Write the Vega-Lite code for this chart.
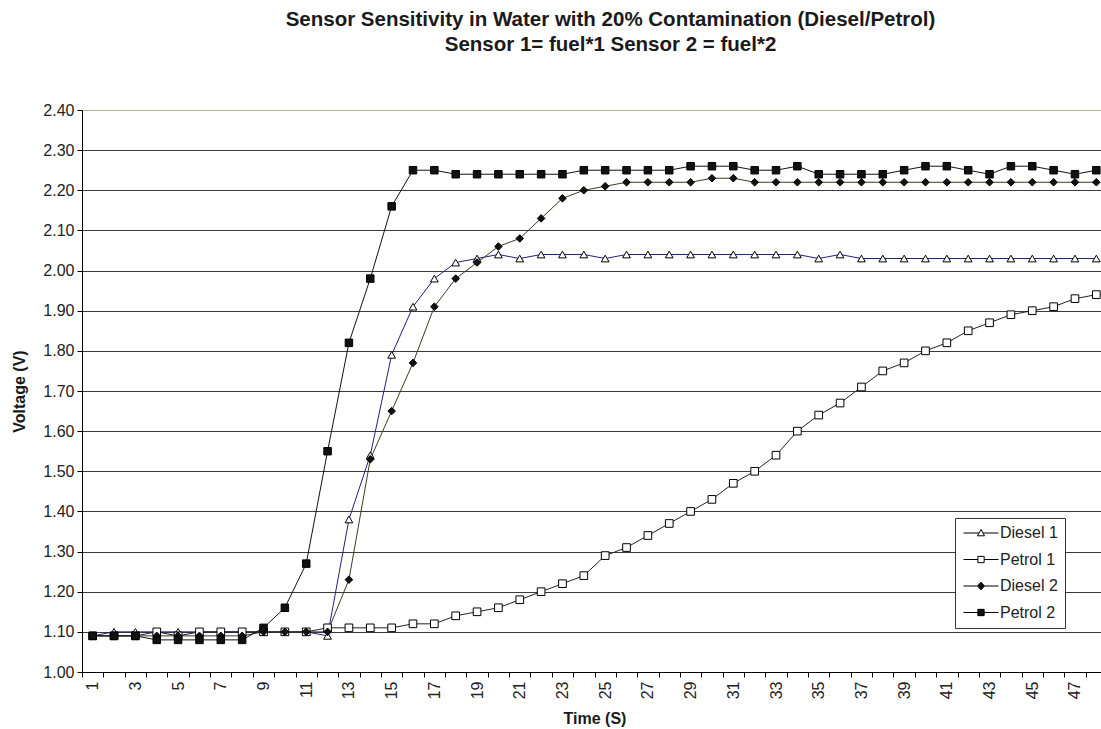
{
  "$schema": "https://vega.github.io/schema/vega-lite/v6.json",
  "width": 1019,
  "height": 562,
  "autosize": "none",
  "padding": {"left": 82, "top": 110, "right": 0, "bottom": 57},
  "background": "white",
  "title": {
    "text": ["Sensor Sensitivity in Water with 20% Contamination (Diesel/Petrol)", "Sensor 1= fuel*1 Sensor 2 = fuel*2"],
    "font": "Liberation Sans",
    "fontSize": 20.5,
    "fontWeight": "bold",
    "color": "#1a1a1a",
    "anchor": "middle",
    "offset": 47,
    "lineHeight": 25,
    "dx": 19
  },
  "config": {
    "view": {"stroke": null},
    "axis": {
      "labelFont": "Liberation Sans",
      "labelFontSize": 16,
      "labelColor": "#222",
      "titleFont": "Liberation Sans",
      "titleFontSize": 16,
      "titleFontWeight": "bold",
      "titleColor": "#1a1a1a",
      "domainColor": "#000",
      "tickColor": "#000",
      "tickSize": 5
    },
    "legend": {
      "orient": "none",
      "legendX": 873,
      "legendY": 408,
      "padding": 7,
      "strokeColor": "#333",
      "fillColor": "white",
      "labelFont": "Liberation Sans",
      "labelFontSize": 16,
      "labelColor": "#222",
      "symbolSize": 49,
      "symbolStrokeWidth": 1,
      "symbolOffset": 11,
      "labelOffset": 11,
      "rowPadding": 10.5
    }
  },
  "data": {
    "values": [
      {"t":1,"series":"Diesel 1","v":1.09},{"t":2,"series":"Diesel 1","v":1.10},{"t":3,"series":"Diesel 1","v":1.10},{"t":4,"series":"Diesel 1","v":1.10},{"t":5,"series":"Diesel 1","v":1.10},{"t":6,"series":"Diesel 1","v":1.10},{"t":7,"series":"Diesel 1","v":1.10},{"t":8,"series":"Diesel 1","v":1.10},{"t":9,"series":"Diesel 1","v":1.10},{"t":10,"series":"Diesel 1","v":1.10},{"t":11,"series":"Diesel 1","v":1.10},{"t":12,"series":"Diesel 1","v":1.09},{"t":13,"series":"Diesel 1","v":1.38},{"t":14,"series":"Diesel 1","v":1.54},{"t":15,"series":"Diesel 1","v":1.79},{"t":16,"series":"Diesel 1","v":1.91},{"t":17,"series":"Diesel 1","v":1.98},{"t":18,"series":"Diesel 1","v":2.02},{"t":19,"series":"Diesel 1","v":2.03},{"t":20,"series":"Diesel 1","v":2.04},{"t":21,"series":"Diesel 1","v":2.03},{"t":22,"series":"Diesel 1","v":2.04},{"t":23,"series":"Diesel 1","v":2.04},{"t":24,"series":"Diesel 1","v":2.04},{"t":25,"series":"Diesel 1","v":2.03},{"t":26,"series":"Diesel 1","v":2.04},{"t":27,"series":"Diesel 1","v":2.04},{"t":28,"series":"Diesel 1","v":2.04},{"t":29,"series":"Diesel 1","v":2.04},{"t":30,"series":"Diesel 1","v":2.04},{"t":31,"series":"Diesel 1","v":2.04},{"t":32,"series":"Diesel 1","v":2.04},{"t":33,"series":"Diesel 1","v":2.04},{"t":34,"series":"Diesel 1","v":2.04},{"t":35,"series":"Diesel 1","v":2.03},{"t":36,"series":"Diesel 1","v":2.04},{"t":37,"series":"Diesel 1","v":2.03},{"t":38,"series":"Diesel 1","v":2.03},{"t":39,"series":"Diesel 1","v":2.03},{"t":40,"series":"Diesel 1","v":2.03},{"t":41,"series":"Diesel 1","v":2.03},{"t":42,"series":"Diesel 1","v":2.03},{"t":43,"series":"Diesel 1","v":2.03},{"t":44,"series":"Diesel 1","v":2.03},{"t":45,"series":"Diesel 1","v":2.03},{"t":46,"series":"Diesel 1","v":2.03},{"t":47,"series":"Diesel 1","v":2.03},{"t":48,"series":"Diesel 1","v":2.03},
      {"t":1,"series":"Petrol 1","v":1.09},{"t":2,"series":"Petrol 1","v":1.09},{"t":3,"series":"Petrol 1","v":1.09},{"t":4,"series":"Petrol 1","v":1.10},{"t":5,"series":"Petrol 1","v":1.09},{"t":6,"series":"Petrol 1","v":1.10},{"t":7,"series":"Petrol 1","v":1.10},{"t":8,"series":"Petrol 1","v":1.10},{"t":9,"series":"Petrol 1","v":1.10},{"t":10,"series":"Petrol 1","v":1.10},{"t":11,"series":"Petrol 1","v":1.10},{"t":12,"series":"Petrol 1","v":1.11},{"t":13,"series":"Petrol 1","v":1.11},{"t":14,"series":"Petrol 1","v":1.11},{"t":15,"series":"Petrol 1","v":1.11},{"t":16,"series":"Petrol 1","v":1.12},{"t":17,"series":"Petrol 1","v":1.12},{"t":18,"series":"Petrol 1","v":1.14},{"t":19,"series":"Petrol 1","v":1.15},{"t":20,"series":"Petrol 1","v":1.16},{"t":21,"series":"Petrol 1","v":1.18},{"t":22,"series":"Petrol 1","v":1.20},{"t":23,"series":"Petrol 1","v":1.22},{"t":24,"series":"Petrol 1","v":1.24},{"t":25,"series":"Petrol 1","v":1.29},{"t":26,"series":"Petrol 1","v":1.31},{"t":27,"series":"Petrol 1","v":1.34},{"t":28,"series":"Petrol 1","v":1.37},{"t":29,"series":"Petrol 1","v":1.40},{"t":30,"series":"Petrol 1","v":1.43},{"t":31,"series":"Petrol 1","v":1.47},{"t":32,"series":"Petrol 1","v":1.50},{"t":33,"series":"Petrol 1","v":1.54},{"t":34,"series":"Petrol 1","v":1.60},{"t":35,"series":"Petrol 1","v":1.64},{"t":36,"series":"Petrol 1","v":1.67},{"t":37,"series":"Petrol 1","v":1.71},{"t":38,"series":"Petrol 1","v":1.75},{"t":39,"series":"Petrol 1","v":1.77},{"t":40,"series":"Petrol 1","v":1.80},{"t":41,"series":"Petrol 1","v":1.82},{"t":42,"series":"Petrol 1","v":1.85},{"t":43,"series":"Petrol 1","v":1.87},{"t":44,"series":"Petrol 1","v":1.89},{"t":45,"series":"Petrol 1","v":1.90},{"t":46,"series":"Petrol 1","v":1.91},{"t":47,"series":"Petrol 1","v":1.93},{"t":48,"series":"Petrol 1","v":1.94},
      {"t":1,"series":"Diesel 2","v":1.09},{"t":2,"series":"Diesel 2","v":1.09},{"t":3,"series":"Diesel 2","v":1.09},{"t":4,"series":"Diesel 2","v":1.09},{"t":5,"series":"Diesel 2","v":1.09},{"t":6,"series":"Diesel 2","v":1.09},{"t":7,"series":"Diesel 2","v":1.09},{"t":8,"series":"Diesel 2","v":1.09},{"t":9,"series":"Diesel 2","v":1.10},{"t":10,"series":"Diesel 2","v":1.10},{"t":11,"series":"Diesel 2","v":1.10},{"t":12,"series":"Diesel 2","v":1.10},{"t":13,"series":"Diesel 2","v":1.23},{"t":14,"series":"Diesel 2","v":1.53},{"t":15,"series":"Diesel 2","v":1.65},{"t":16,"series":"Diesel 2","v":1.77},{"t":17,"series":"Diesel 2","v":1.91},{"t":18,"series":"Diesel 2","v":1.98},{"t":19,"series":"Diesel 2","v":2.02},{"t":20,"series":"Diesel 2","v":2.06},{"t":21,"series":"Diesel 2","v":2.08},{"t":22,"series":"Diesel 2","v":2.13},{"t":23,"series":"Diesel 2","v":2.18},{"t":24,"series":"Diesel 2","v":2.20},{"t":25,"series":"Diesel 2","v":2.21},{"t":26,"series":"Diesel 2","v":2.22},{"t":27,"series":"Diesel 2","v":2.22},{"t":28,"series":"Diesel 2","v":2.22},{"t":29,"series":"Diesel 2","v":2.22},{"t":30,"series":"Diesel 2","v":2.23},{"t":31,"series":"Diesel 2","v":2.23},{"t":32,"series":"Diesel 2","v":2.22},{"t":33,"series":"Diesel 2","v":2.22},{"t":34,"series":"Diesel 2","v":2.22},{"t":35,"series":"Diesel 2","v":2.22},{"t":36,"series":"Diesel 2","v":2.22},{"t":37,"series":"Diesel 2","v":2.22},{"t":38,"series":"Diesel 2","v":2.22},{"t":39,"series":"Diesel 2","v":2.22},{"t":40,"series":"Diesel 2","v":2.22},{"t":41,"series":"Diesel 2","v":2.22},{"t":42,"series":"Diesel 2","v":2.22},{"t":43,"series":"Diesel 2","v":2.22},{"t":44,"series":"Diesel 2","v":2.22},{"t":45,"series":"Diesel 2","v":2.22},{"t":46,"series":"Diesel 2","v":2.22},{"t":47,"series":"Diesel 2","v":2.22},{"t":48,"series":"Diesel 2","v":2.22},
      {"t":1,"series":"Petrol 2","v":1.09},{"t":2,"series":"Petrol 2","v":1.09},{"t":3,"series":"Petrol 2","v":1.09},{"t":4,"series":"Petrol 2","v":1.08},{"t":5,"series":"Petrol 2","v":1.08},{"t":6,"series":"Petrol 2","v":1.08},{"t":7,"series":"Petrol 2","v":1.08},{"t":8,"series":"Petrol 2","v":1.08},{"t":9,"series":"Petrol 2","v":1.11},{"t":10,"series":"Petrol 2","v":1.16},{"t":11,"series":"Petrol 2","v":1.27},{"t":12,"series":"Petrol 2","v":1.55},{"t":13,"series":"Petrol 2","v":1.82},{"t":14,"series":"Petrol 2","v":1.98},{"t":15,"series":"Petrol 2","v":2.16},{"t":16,"series":"Petrol 2","v":2.25},{"t":17,"series":"Petrol 2","v":2.25},{"t":18,"series":"Petrol 2","v":2.24},{"t":19,"series":"Petrol 2","v":2.24},{"t":20,"series":"Petrol 2","v":2.24},{"t":21,"series":"Petrol 2","v":2.24},{"t":22,"series":"Petrol 2","v":2.24},{"t":23,"series":"Petrol 2","v":2.24},{"t":24,"series":"Petrol 2","v":2.25},{"t":25,"series":"Petrol 2","v":2.25},{"t":26,"series":"Petrol 2","v":2.25},{"t":27,"series":"Petrol 2","v":2.25},{"t":28,"series":"Petrol 2","v":2.25},{"t":29,"series":"Petrol 2","v":2.26},{"t":30,"series":"Petrol 2","v":2.26},{"t":31,"series":"Petrol 2","v":2.26},{"t":32,"series":"Petrol 2","v":2.25},{"t":33,"series":"Petrol 2","v":2.25},{"t":34,"series":"Petrol 2","v":2.26},{"t":35,"series":"Petrol 2","v":2.24},{"t":36,"series":"Petrol 2","v":2.24},{"t":37,"series":"Petrol 2","v":2.24},{"t":38,"series":"Petrol 2","v":2.24},{"t":39,"series":"Petrol 2","v":2.25},{"t":40,"series":"Petrol 2","v":2.26},{"t":41,"series":"Petrol 2","v":2.26},{"t":42,"series":"Petrol 2","v":2.25},{"t":43,"series":"Petrol 2","v":2.24},{"t":44,"series":"Petrol 2","v":2.26},{"t":45,"series":"Petrol 2","v":2.26},{"t":46,"series":"Petrol 2","v":2.25},{"t":47,"series":"Petrol 2","v":2.24},{"t":48,"series":"Petrol 2","v":2.25}
    ]
  },
  "encoding": {
    "x": {
      "field": "t",
      "type": "ordinal",
      "scale": {"type": "band", "range": [0, 1025], "paddingInner": 0, "paddingOuter": 0},
      "axis": {
        "title": "Time (S)",
        "tickBand": "extent",
        "labelAngle": -90,
        "labelAlign": "right",
        "labelBaseline": "middle",
        "labelPadding": 4,
        "labelExpr": "datum.value % 2 == 1 ? datum.label : ''",
        "grid": false,
        "titlePadding": 12
      }
    },
    "y": {
      "field": "v",
      "type": "quantitative",
      "scale": {"domain": [1.0, 2.4], "nice": false, "zero": false},
      "axis": {
        "title": "Voltage (V)",
        "values": [1.0, 1.1, 1.2, 1.3, 1.4, 1.5, 1.6, 1.7, 1.8, 1.9, 2.0, 2.1, 2.2, 2.3, 2.4],
        "format": ".2f",
        "grid": true,
        "gridColor": {"condition": {"test": "datum.value > 2.35", "value": "#b5b58a"}, "value": "#3a3a3a"},
        "gridWidth": 1.2,
        "labelPadding": 3,
        "titlePadding": 15
      }
    }
  },
  "layer": [
    {
      "mark": {"type": "line", "strokeWidth": 1},
      "encoding": {
        "stroke": {
          "field": "series",
          "scale": {"domain": ["Diesel 1", "Petrol 1", "Diesel 2", "Petrol 2"], "range": ["#202080", "#222222", "#3c3c22", "#111111"]},
          "legend": null
        },
        "detail": {"field": "series"}
      }
    },
    {
      "mark": {"type": "point", "filled": true, "stroke": "#000", "strokeWidth": 1, "opacity": 1},
      "encoding": {
        "shape": {
          "field": "series",
          "scale": {"domain": ["Diesel 1", "Petrol 1", "Diesel 2", "Petrol 2"], "range": ["triangle-up", "square", "diamond", "square"]},
          "legend": null
        },
        "fill": {
          "field": "series",
          "scale": {"domain": ["Diesel 1", "Petrol 1", "Diesel 2", "Petrol 2"], "range": ["#ffffff", "#ffffff", "#111111", "#111111"]},
          "legend": null
        },
        "size": {
          "field": "series",
          "scale": {"domain": ["Diesel 1", "Petrol 1", "Diesel 2", "Petrol 2"], "range": [60, 56, 56, 64]},
          "legend": null
        }
      }
    },
    {
      "transform": [{"filter": "datum.v < 0"}],
      "mark": {"type": "point", "filled": true, "stroke": "#000", "strokeWidth": 1, "opacity": 1},
      "encoding": {
        "shape": {
          "field": "series",
          "scale": {"domain": ["Diesel 1", "Petrol 1", "Diesel 2", "Petrol 2"], "range": ["M-5,0H-0.6M0.6,0H5M0,-1L1,0.8L-1,0.8Z", "M-5,0H-0.9M0.9,0H5M-0.9,-0.9H0.9V0.9H-0.9Z", "M-5,0H-1M1,0H5M0,-1.1L1,0L0,1.1L-1,0Z", "M-5,0H-0.9M0.9,0H5M-0.9,-0.9H0.9V0.9H-0.9Z"]},
          "legend": {"title": null, "encode": {"symbols": {"update": {"stroke": {"value": "#000"}, "strokeWidth": {"value": 1}, "opacity": {"value": 1}}}}}
        },
        "fill": {
          "field": "series",
          "scale": {"domain": ["Diesel 1", "Petrol 1", "Diesel 2", "Petrol 2"], "range": ["#ffffff", "#ffffff", "#111111", "#111111"]},
          "legend": {"title": null, "encode": {"symbols": {"update": {"stroke": {"value": "#000"}, "strokeWidth": {"value": 1}, "opacity": {"value": 1}}}}}
        }
      }
    }
  ],
  "resolve": {"scale": {"shape": "independent", "fill": "independent"}}
}
